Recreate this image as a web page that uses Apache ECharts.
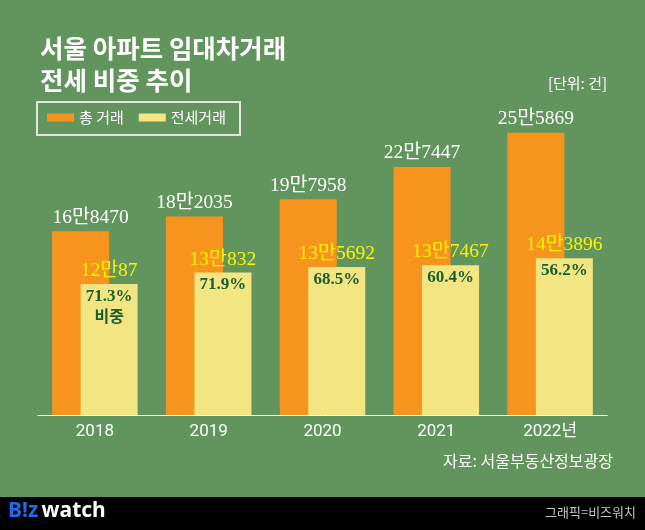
<!DOCTYPE html>
<html><head><meta charset="utf-8">
<script src="https://cdn.jsdelivr.net/npm/echarts@6/dist/echarts.min.js"></script>
<style>html,body{margin:0;padding:0;background:#62955d;}#c{width:645px;height:530px;}</style>
</head><body><div id="c"></div>
<script>
const years = ['2018', '2019', '2020', '2021', '2022년'];
const totalDeals = [168470, 182035, 197958, 227447, 258869];
const jeonseDeals = [120087, 130832, 135692, 137467, 143896];
const totalLabels = ['16만8470', '18만2035', '19만7958', '22만7447', '25만5869'];
const jeonseLabels = ['12만87', '13만832', '13만5692', '13만7467', '14만3896'];
const jeonseShare = ['71.3%', '71.9%', '68.5%', '60.4%', '56.2%'];
const seriesNames = ['총 거래', '전세거래'];

const SERIF = '"Liberation Serif", "DejaVu Serif", "Noto Sans CJK KR", serif';
const SANS = '"Noto Sans CJK KR", "Noto Sans", sans-serif';

const chart = echarts.init(document.getElementById('c'), null, {renderer: 'canvas'});
chart.setOption({
  backgroundColor: '#62955d',
  animation: false,
  title: {
    text: '서울 아파트 임대차거래\n전세 비중 추이',
    left: 35, top: 27,
    textStyle: {color: '#ffffff', fontSize: 25.5, fontWeight: 'bold', lineHeight: 32, fontFamily: SANS}
  },
  legend: {
    left: 47, top: 110, padding: 0,
    itemWidth: 27, itemHeight: 8, itemGap: 15,
    icon: 'rect',
    textStyle: {color: '#ffffff', fontSize: 15, fontFamily: SANS},
    data: seriesNames
  },
  grid: {left: 38, right: 38, top: 88, bottom: 115, containLabel: false},
  xAxis: {
    type: 'category', data: years,
    axisLine: {lineStyle: {color: '#ffffff', width: 1}},
    axisTick: {show: false},
    axisLabel: {color: '#ffffff', fontSize: 17, fontFamily: 'Roboto, "Noto Sans CJK KR", sans-serif', margin: 8}
  },
  yAxis: {type: 'value', min: 0, max: 300000, show: false, splitLine: {show: false}},
  series: [
    {
      name: seriesNames[0], type: 'bar', barWidth: 57, barGap: '-50%',
      itemStyle: {color: '#f7941d'},
      data: totalDeals.map((v, i) => ({
        value: v,
        label: i === 0 ? {offset: [10, 0]} : {}
      })),
      label: {
        show: true, position: 'top', distance: 4,
        color: '#ffffff', fontSize: 19.5, fontFamily: SERIF,
        formatter: p => totalLabels[p.dataIndex]
      },
      z: 2
    },
    {
      name: seriesNames[1], type: 'bar', barWidth: 57,
      itemStyle: {color: '#f3e582'},
      data: jeonseDeals,
      label: {
        show: true, position: 'insideTop', distance: 0, offset: [0, -26],
        formatter: p => '{v|' + jeonseLabels[p.dataIndex] + '}\n{p|' + jeonseShare[p.dataIndex] + '}' + (p.dataIndex === 0 ? '\n{s|비중}' : ''),
        rich: {
          v: {color: '#fbf400', fontSize: 19.5, fontFamily: SERIF, lineHeight: 26, align: 'center'},
          p: {color: '#1a5e2e', fontSize: 17, fontWeight: 'bold', fontFamily: SERIF, lineHeight: 25, align: 'center'},
          s: {color: '#1a5e2e', fontSize: 16, fontWeight: 'bold', fontFamily: SANS, lineHeight: 14, align: 'center'}
        }
      },
      z: 3
    }
  ],
  graphic: [
    {type: 'rect', shape: {x: 37, y: 102, width: 203, height: 33}, style: {fill: 'none', stroke: '#dfe8da', lineWidth: 2}},
    {type: 'text', right: 38, top: 76, style: {text: '[단위: 건]', fill: '#ffffff', fontSize: 15, fontFamily: SANS}},
    {type: 'text', right: 32, top: 453, style: {text: '자료: 서울부동산정보광장', fill: '#ffffff', fontSize: 16, fontFamily: SANS}},
    {type: 'rect', shape: {x: 0, y: 497, width: 645, height: 33}, style: {fill: '#000000'}},
    {type: 'text', left: 8, top: 501, style: {
      text: '{b|B!z} {w|watch}',
      rich: {
        b: {fill: '#1f6bf0', fontSize: 21, fontWeight: 'bold', fontFamily: '"Noto Sans", sans-serif'},
        w: {fill: '#ffffff', fontSize: 21, fontWeight: 'bold', fontFamily: '"Noto Sans", sans-serif'}
      }
    }},
    {type: 'text', right: 9, top: 506, style: {text: '그래픽=비즈워치', fill: '#c4c4c4', fontSize: 13, fontFamily: SANS}}
  ]
});
</script></body></html>
